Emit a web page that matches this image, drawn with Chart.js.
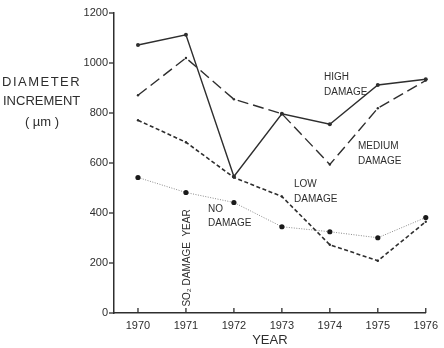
<!DOCTYPE html>
<html><head><meta charset="utf-8">
<script src="https://cdn.jsdelivr.net/npm/chart.js@4/dist/chart.umd.min.js"></script>
<style>html,body{margin:0;padding:0;background:#fff}#wrap{width:444px;height:348px}</style>
</head><body><div id="wrap"><canvas id="c" width="444" height="348"></canvas></div>
<script>
const years = [1970, 1971, 1972, 1973, 1974, 1975, 1976];
const highDamage = [1072, 1113, 546, 797, 755, 912, 935];
const mediumDamage = [871, 1020, 855, 797, 594, 819, 930];
const lowDamage = [771, 683, 542, 466, 273, 209, 365];
const noDamage = [542, 482, 442, 345, 325, 301, 382];
const yTicks = [0, 200, 400, 600, 800, 1000, 1200];

const ink = '#2e2e2e';
const pts = arr => years.map((y, i) => ({x: y, y: arr[i]}));

const annot = {
  id: 'annot',
  afterDraw(chart) {
    const ctx = chart.ctx, xs = chart.scales.x, ys = chart.scales.y;
    ctx.save();
    ctx.fillStyle = ink;
    ctx.strokeStyle = ink;
    // inward x ticks
    ctx.lineWidth = 1.3;
    const y0 = ys.getPixelForValue(0);
    years.forEach(v => {
      const px = xs.getPixelForValue(v);
      ctx.beginPath(); ctx.moveTo(px, y0); ctx.lineTo(px, y0 - 5); ctx.stroke();
    });
    // outward y ticks
    const x0 = xs.left;
    yTicks.forEach(v => {
      const py = ys.getPixelForValue(v);
      ctx.beginPath(); ctx.moveTo(x0, py); ctx.lineTo(x0 - 5, py); ctx.stroke();
    });
    // y-axis title (horizontal)
    ctx.textBaseline = 'middle';
    ctx.textAlign = 'left';
    ctx.font = '13px "Liberation Sans"';
    ctx.letterSpacing = '1.5px';
    ctx.fillText('DIAMETER', 2, 82);
    ctx.letterSpacing = '0px';
    ctx.fillText('INCREMENT', 3, 101);
    ctx.textAlign = 'center';
    ctx.fillText('( µm )', 42, 122);
    // series labels
    ctx.textAlign = 'left';
    ctx.font = '10px "Liberation Sans"';
    ctx.fillText('HIGH', 324, 77); ctx.fillText('DAMAGE', 324, 92);
    ctx.fillText('MEDIUM', 358, 146); ctx.fillText('DAMAGE', 358, 161);
    ctx.fillText('LOW', 294, 184); ctx.fillText('DAMAGE', 294, 199);
    ctx.fillText('NO', 208, 209); ctx.fillText('DAMAGE', 208, 223);
    // SO2 damage year
    ctx.save();
    ctx.translate(xs.getPixelForValue(1971) + 1, 258);
    ctx.rotate(-Math.PI / 2);
    ctx.textAlign = 'center';
    ctx.font = '10px "Liberation Sans"';
    ctx.fillText('SO\u2082 DAMAGE  YEAR', 0, 0);
    ctx.restore();
    ctx.restore();
  }
};

new Chart(document.getElementById('c'), {
  type: 'line',
  data: {
    datasets: [
      {label: 'High damage', data: pts(highDamage), borderColor: ink, borderWidth: 1.4,
       pointRadius: 2, pointBackgroundColor: ink, pointBorderWidth: 0},
      {label: 'Medium damage', data: pts(mediumDamage), borderColor: ink, borderWidth: 1.4,
       borderDash: [11, 5], pointRadius: 1.2, pointBackgroundColor: ink, pointBorderWidth: 0},
      {label: 'Low damage', data: pts(lowDamage), borderColor: ink, borderWidth: 1.6,
       borderDash: [4, 2.5], pointRadius: 1.2, pointBackgroundColor: ink, pointBorderWidth: 0},
      {label: 'No damage', data: pts(noDamage), borderColor: '#8a8a8a', borderWidth: 1,
       borderDash: [1, 1.5], pointRadius: 2.6, pointBackgroundColor: '#1a1a1a', pointBorderWidth: 0}
    ]
  },
  options: {
    responsive: false,
    animation: false,
    clip: false,
    layout: {padding: {top: 13, right: 11, left: 0, bottom: 0}},
    plugins: {legend: {display: false}, tooltip: {enabled: false}},
    scales: {
      x: {
        type: 'linear', min: 1969.5, max: 1976,
        afterBuildTicks: s => { s.ticks = years.map(v => ({value: v})); },
        afterFit: s => { s.height = 35; },
        grid: {display: true, drawOnChartArea: false, drawTicks: false},
        border: {color: ink, width: 1.5},
        ticks: {color: ink, font: {family: 'Liberation Sans', size: 11}, padding: 6,
                callback: v => String(v), maxRotation: 0, autoSkip: false},
        title: {display: true, text: 'YEAR', color: ink, font: {family: 'Liberation Sans', size: 13},
                padding: {top: 0, bottom: 0}}
      },
      y: {
        min: 0, max: 1200,
        afterBuildTicks: s => { s.ticks = yTicks.map(v => ({value: v})); },
        afterFit: s => { s.width = 114; },
        grid: {display: true, drawOnChartArea: false, drawTicks: false},
        border: {color: ink, width: 1.5},
        ticks: {color: ink, font: {family: 'Liberation Sans', size: 11}, padding: 6,
                callback: v => String(v)}
      }
    }
  },
  plugins: [annot]
});
</script></body></html>
